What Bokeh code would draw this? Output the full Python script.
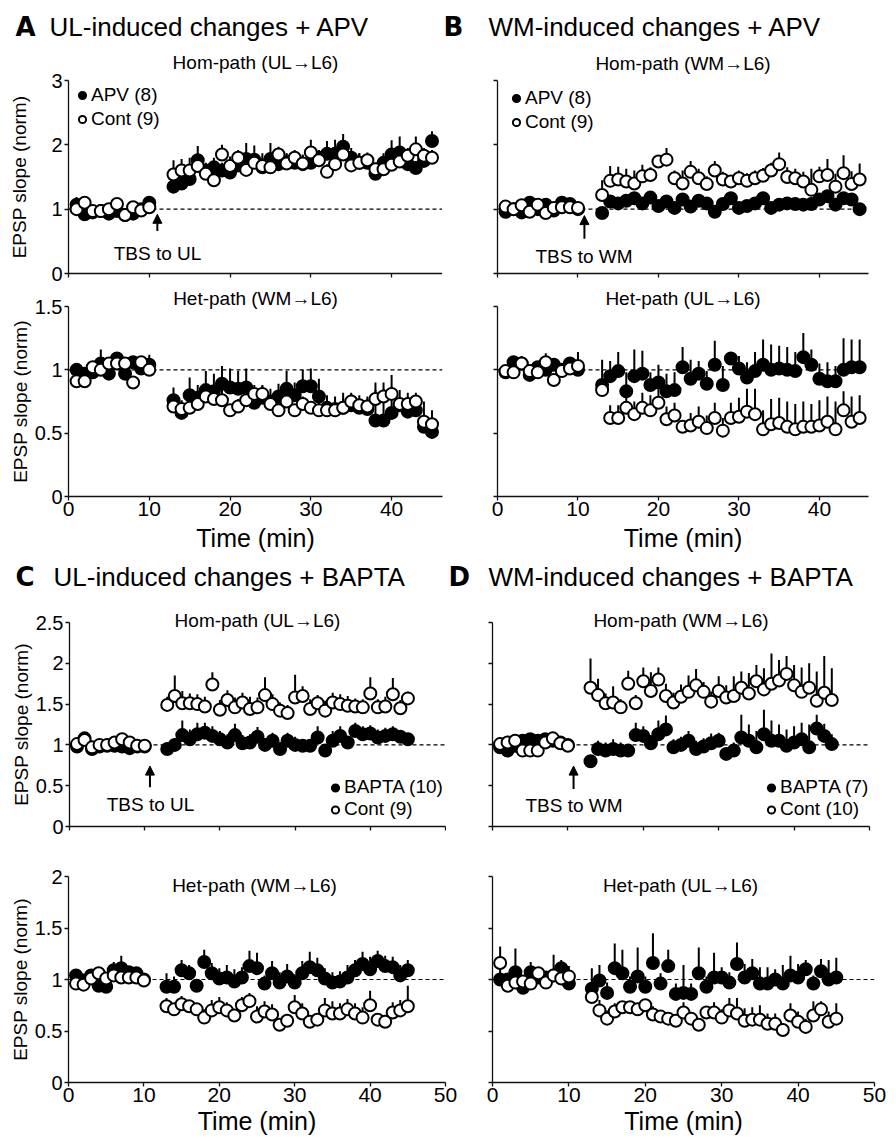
import math
from bokeh.plotting import figure
from bokeh.layouts import column, row
from bokeh.models import (Range1d, FixedTicker, NumeralTickFormatter, Span, Label, Title, LinearAxis,
                          Arrow, NormalHead, Legend, LegendItem, ColumnDataSource)
from bokeh.embed import file_html
from bokeh.resources import INLINE

FONT = "Liberation Sans"

# ---------------- data ----------------
time_min = [1, 2, 3, 4, 5, 6, 7, 8, 9, 10,
            13, 14, 15, 16, 17, 18, 19, 20, 21, 22, 23, 24, 25, 26, 27, 28, 29, 30,
            31, 32, 33, 34, 35, 36, 37, 38, 39, 40, 41, 42, 43, 44, 45]

a_hom_apv = [1.07, 0.92, 0.95, 0.97, 0.93, 0.97, 0.91, 0.93, 1.00, 1.10,
             1.35, 1.40, 1.47, 1.76, 1.60, 1.65, 1.60, 1.57, 1.68, 1.78, 1.77, 1.65, 1.78, 1.70, 1.72, 1.72, 1.70, 1.72,
             1.80, 1.86, 1.86, 1.97, 1.80, 1.72, 1.72, 1.55, 1.72, 1.85, 1.88, 1.70, 1.64, 1.75, 2.06]
a_hom_apv_sem = [0.12, 0.04, 0.05, 0.04, 0.05, 0.06, 0.05, 0.07, 0.06, 0.05,
                 0.10, 0.10, 0.12, 0.22, 0.12, 0.15, 0.12, 0.12, 0.12, 0.25, 0.22, 0.15, 0.25, 0.15, 0.15, 0.15, 0.15, 0.12,
                 0.12, 0.20, 0.22, 0.20, 0.15, 0.15, 0.12, 0.10, 0.15, 0.22, 0.25, 0.15, 0.10, 0.10, 0.15]
a_hom_cont = [1.00, 1.10, 0.97, 0.97, 1.00, 1.08, 0.91, 1.03, 0.98, 1.03,
              1.54, 1.60, 1.60, 1.67, 1.55, 1.45, 1.85, 1.67, 1.80, 1.61, 1.72, 1.67, 1.65, 1.85, 1.71, 1.80, 1.71, 1.88,
              1.76, 1.58, 1.70, 1.85, 1.68, 1.72, 1.76, 1.62, 1.62, 1.69, 1.74, 1.83, 1.93, 1.83, 1.80]
a_hom_cont_sem = [0.05, 0.05, 0.04, 0.04, 0.05, 0.06, 0.04, 0.08, 0.05, 0.05,
                  0.22, 0.18, 0.20, 0.15, 0.12, 0.10, 0.15, 0.15, 0.12, 0.12, 0.15, 0.20, 0.15, 0.12, 0.15, 0.12, 0.12, 0.20,
                  0.15, 0.12, 0.15, 0.12, 0.20, 0.15, 0.12, 0.10, 0.12, 0.15, 0.12, 0.12, 0.20, 0.12, 0.12]

a_het_apv = [1.00, 0.97, 0.98, 1.05, 0.97, 1.09, 0.97, 1.06, 1.01, 1.04,
             0.76, 0.66, 0.80, 0.78, 0.84, 0.83, 0.89, 0.86, 0.85, 0.86, 0.74, 0.78, 0.75, 0.79, 0.85, 0.80, 0.87, 0.87,
             0.79, 0.70, 0.69, 0.70, 0.72, 0.70, 0.69, 0.60, 0.60, 0.66, 0.72, 0.67, 0.68, 0.55, 0.51]
a_het_apv_sem = [0.04, 0.03, 0.04, 0.11, 0.04, 0.04, 0.04, 0.05, 0.05, 0.08,
                 0.10, 0.10, 0.14, 0.10, 0.15, 0.14, 0.14, 0.15, 0.14, 0.15, 0.10, 0.10, 0.10, 0.10, 0.14, 0.10, 0.13, 0.14,
                 0.14, 0.10, 0.10, 0.12, 0.10, 0.10, 0.10, 0.30, 0.30, 0.30, 0.12, 0.15, 0.10, 0.20, 0.17]
a_het_cont = [0.91, 0.91, 1.02, 1.00, 1.05, 1.05, 1.05, 0.90, 1.06, 1.00,
              0.71, 0.69, 0.70, 0.73, 0.79, 0.77, 0.76, 0.68, 0.71, 0.76, 0.81, 0.81, 0.73, 0.68, 0.75, 0.68, 0.73, 0.70,
              0.68, 0.68, 0.68, 0.70, 0.75, 0.72, 0.71, 0.77, 0.79, 0.81, 0.73, 0.73, 0.75, 0.59, 0.57]
a_het_cont_sem = [0.03, 0.03, 0.04, 0.04, 0.04, 0.04, 0.04, 0.04, 0.04, 0.04,
                  0.05, 0.06, 0.05, 0.07, 0.05, 0.06, 0.08, 0.05, 0.06, 0.05, 0.07, 0.06, 0.05, 0.06, 0.07, 0.05, 0.06, 0.05,
                  0.06, 0.05, 0.06, 0.07, 0.06, 0.05, 0.06, 0.07, 0.06, 0.05, 0.06, 0.05, 0.07, 0.06, 0.07]

b_hom_apv = [0.96, 1.00, 0.95, 1.10, 1.00, 1.07, 0.98, 1.10, 1.08, 1.00,
             0.94, 1.12, 1.09, 1.13, 1.17, 1.09, 1.18, 1.05, 1.12, 1.02, 1.15, 1.04, 1.13, 1.09, 0.96, 1.08, 1.17, 1.02,
             1.05, 1.09, 1.17, 1.02, 1.07, 1.09, 1.08, 1.07, 1.08, 1.15, 1.20, 1.07, 1.17, 1.15, 1.00]
b_hom_apv_sem = [0.04, 0.03, 0.04, 0.08, 0.04, 0.05, 0.04, 0.04, 0.05, 0.04,
                 0.05, 0.06, 0.07, 0.08, 0.06, 0.07, 0.06, 0.08, 0.06, 0.07, 0.08, 0.06, 0.07, 0.06, 0.05, 0.07, 0.06, 0.08,
                 0.09, 0.07, 0.06, 0.10, 0.09, 0.08, 0.10, 0.09, 0.08, 0.07, 0.08, 0.09, 0.07, 0.08, 0.06]
b_hom_cont = [1.04, 1.00, 1.06, 0.96, 1.07, 0.94, 1.02, 1.03, 1.03, 1.02,
              1.22, 1.44, 1.46, 1.43, 1.40, 1.51, 1.53, 1.74, 1.77, 1.48, 1.40, 1.58, 1.48, 1.39, 1.60, 1.46, 1.43, 1.48,
              1.44, 1.48, 1.52, 1.60, 1.70, 1.50, 1.48, 1.43, 1.30, 1.51, 1.53, 1.35, 1.56, 1.39, 1.46]
b_hom_cont_sem = [0.03, 0.03, 0.04, 0.03, 0.04, 0.03, 0.04, 0.03, 0.04, 0.03,
                  0.23, 0.23, 0.20, 0.20, 0.20, 0.18, 0.12, 0.10, 0.18, 0.12, 0.20, 0.17, 0.15, 0.12, 0.15, 0.12, 0.10, 0.12,
                  0.12, 0.12, 0.12, 0.12, 0.18, 0.15, 0.15, 0.15, 0.33, 0.15, 0.25, 0.20, 0.28, 0.20, 0.25]

b_het_apv = [0.98, 1.06, 1.05, 0.96, 1.02, 1.00, 1.04, 1.00, 1.05, 1.00,
             0.88, 0.95, 0.99, 0.83, 0.95, 0.97, 0.88, 0.90, 0.83, 0.84, 1.02, 0.93, 0.97, 0.89, 1.04, 0.88, 1.09, 1.01,
             0.94, 0.99, 1.04, 1.00, 1.01, 1.00, 0.99, 1.10, 1.04, 0.93, 0.91, 0.91, 1.00, 1.02, 1.02]
b_het_apv_sem = [0.05, 0.05, 0.06, 0.04, 0.05, 0.04, 0.05, 0.04, 0.05, 0.08,
                 0.20, 0.12, 0.15, 0.15, 0.21, 0.18, 0.10, 0.14, 0.14, 0.14, 0.16, 0.15, 0.10, 0.10, 0.19, 0.15, 0.05, 0.10,
                 0.12, 0.15, 0.20, 0.20, 0.18, 0.18, 0.15, 0.19, 0.12, 0.12, 0.15, 0.12, 0.25, 0.22, 0.22]
b_het_cont = [0.99, 0.98, 1.05, 0.99, 0.98, 1.06, 0.92, 0.99, 1.01, 1.03,
              0.84, 0.62, 0.62, 0.70, 0.65, 0.70, 0.68, 0.74, 0.61, 0.64, 0.55, 0.56, 0.59, 0.54, 0.62, 0.52, 0.62, 0.63,
              0.67, 0.65, 0.53, 0.57, 0.58, 0.55, 0.53, 0.55, 0.55, 0.56, 0.59, 0.53, 0.68, 0.59, 0.62]
b_het_cont_sem = [0.03, 0.03, 0.05, 0.03, 0.03, 0.07, 0.03, 0.03, 0.03, 0.11,
                  0.05, 0.10, 0.10, 0.12, 0.10, 0.12, 0.12, 0.12, 0.10, 0.10, 0.05, 0.10, 0.12, 0.10, 0.12, 0.10, 0.12, 0.15,
                  0.18, 0.20, 0.15, 0.20, 0.20, 0.20, 0.20, 0.20, 0.18, 0.20, 0.20, 0.22, 0.15, 0.20, 0.18]

c_hom_bapta = [0.98, 1.08, 0.95, 0.98, 0.99, 0.99, 0.98, 0.96, 0.98, 0.98,
               0.95, 1.00, 1.12, 1.07, 1.13, 1.15, 1.11, 1.07, 1.03, 1.12, 1.02, 1.03, 1.10, 1.00, 1.05, 0.95, 1.05, 1.00,
               0.99, 0.99, 1.09, 0.93, 1.05, 1.11, 1.03, 1.17, 1.13, 1.14, 1.09, 1.11, 1.13, 1.10, 1.07]
c_hom_bapta_sem = [0.04, 0.05, 0.03, 0.03, 0.03, 0.04, 0.05, 0.04, 0.03, 0.03,
                   0.06, 0.08, 0.18, 0.12, 0.14, 0.12, 0.12, 0.10, 0.10, 0.14, 0.10, 0.10, 0.12, 0.08, 0.10, 0.08, 0.10, 0.10,
                   0.08, 0.08, 0.14, 0.06, 0.12, 0.12, 0.08, 0.10, 0.10, 0.10, 0.10, 0.10, 0.10, 0.08, 0.08]
c_hom_cont = [1.01, 1.06, 0.97, 1.00, 1.00, 1.03, 1.07, 1.03, 0.99, 0.99,
              1.49, 1.60, 1.51, 1.51, 1.50, 1.47, 1.74, 1.43, 1.55, 1.46, 1.52, 1.44, 1.46, 1.61, 1.50, 1.42, 1.39, 1.58,
              1.60, 1.44, 1.51, 1.42, 1.52, 1.50, 1.48, 1.47, 1.46, 1.63, 1.46, 1.47, 1.62, 1.45, 1.57]
c_hom_cont_sem = [0.03, 0.04, 0.03, 0.03, 0.03, 0.04, 0.05, 0.04, 0.03, 0.03,
                  0.10, 0.25, 0.15, 0.12, 0.12, 0.12, 0.15, 0.12, 0.12, 0.12, 0.12, 0.15, 0.12, 0.22, 0.12, 0.10, 0.10, 0.28,
                  0.12, 0.12, 0.10, 0.12, 0.12, 0.12, 0.12, 0.10, 0.10, 0.20, 0.10, 0.12, 0.20, 0.10, 0.08]

c_het_bapta = [1.04, 0.99, 1.04, 0.94, 0.93, 1.09, 1.11, 1.07, 1.06, 1.00,
               0.93, 0.93, 1.09, 1.06, 0.94, 1.17, 1.06, 1.01, 1.02, 0.98, 1.02, 1.13, 1.11, 0.96, 1.06, 0.97, 1.03, 0.97,
               1.06, 1.12, 1.09, 1.01, 0.97, 0.98, 1.02, 1.09, 1.15, 1.10, 1.18, 1.13, 1.12, 1.04, 1.09]
c_het_bapta_sem = [0.06, 0.04, 0.05, 0.05, 0.04, 0.08, 0.12, 0.06, 0.06, 0.05,
                   0.13, 0.10, 0.10, 0.08, 0.06, 0.12, 0.10, 0.10, 0.12, 0.12, 0.10, 0.15, 0.15, 0.08, 0.12, 0.10, 0.12, 0.08,
                   0.12, 0.15, 0.12, 0.10, 0.10, 0.10, 0.12, 0.10, 0.12, 0.12, 0.10, 0.10, 0.10, 0.10, 0.10]
c_het_cont = [0.96, 0.95, 1.01, 1.06, 1.01, 1.04, 1.02, 1.02, 1.02, 0.99,
              0.74, 0.71, 0.76, 0.74, 0.71, 0.63, 0.70, 0.73, 0.70, 0.65, 0.75, 0.79, 0.64, 0.69, 0.66, 0.56, 0.60, 0.73,
              0.67, 0.59, 0.61, 0.70, 0.67, 0.67, 0.71, 0.67, 0.63, 0.75, 0.61, 0.59, 0.68, 0.70, 0.74]
c_het_cont_sem = [0.03, 0.03, 0.03, 0.03, 0.03, 0.04, 0.03, 0.03, 0.03, 0.03,
                  0.08, 0.06, 0.08, 0.06, 0.06, 0.08, 0.10, 0.10, 0.08, 0.06, 0.08, 0.08, 0.10, 0.10, 0.10, 0.06, 0.06, 0.12,
                  0.10, 0.06, 0.06, 0.12, 0.12, 0.10, 0.10, 0.10, 0.10, 0.14, 0.06, 0.06, 0.10, 0.10, 0.20]

d_hom_bapta = [0.97, 0.93, 0.99, 1.05, 1.07, 1.05, 1.07, 1.05, 1.03, 1.00,
               0.80, 0.95, 0.93, 0.95, 0.93, 0.93, 1.12, 1.11, 1.02, 1.13, 1.19, 0.97, 1.00, 1.05, 0.95, 0.98, 1.02, 1.05,
               0.89, 0.93, 1.09, 1.05, 0.97, 1.13, 1.05, 1.05, 0.99, 1.03, 1.07, 0.97, 1.20, 1.11, 1.01]
d_hom_bapta_sem = [0.04, 0.04, 0.04, 0.05, 0.05, 0.04, 0.05, 0.04, 0.04, 0.03,
                   0.05, 0.10, 0.10, 0.12, 0.10, 0.05, 0.15, 0.12, 0.10, 0.17, 0.17, 0.10, 0.10, 0.12, 0.10, 0.10, 0.12, 0.10,
                   0.05, 0.10, 0.28, 0.20, 0.20, 0.30, 0.25, 0.20, 0.20, 0.20, 0.20, 0.28, 0.17, 0.15, 0.12]
d_hom_cont = [1.01, 1.03, 1.05, 0.93, 0.93, 0.93, 1.03, 1.08, 1.02, 0.99,
              1.70, 1.61, 1.51, 1.52, 1.46, 1.75, 1.51, 1.78, 1.66, 1.80, 1.60, 1.52, 1.59, 1.65, 1.73, 1.65, 1.53, 1.66,
              1.58, 1.60, 1.70, 1.63, 1.78, 1.68, 1.75, 1.79, 1.87, 1.73, 1.65, 1.70, 1.54, 1.64, 1.55]
d_hom_cont_sem = [0.03, 0.03, 0.04, 0.03, 0.03, 0.03, 0.04, 0.05, 0.04, 0.03,
                  0.36, 0.20, 0.12, 0.20, 0.10, 0.16, 0.10, 0.17, 0.23, 0.15, 0.15, 0.12, 0.15, 0.20, 0.20, 0.12, 0.12, 0.18,
                  0.15, 0.24, 0.20, 0.25, 0.20, 0.26, 0.37, 0.25, 0.22, 0.25, 0.30, 0.30, 0.36, 0.45, 0.39]

d_het_bapta = [1.00, 1.00, 1.07, 0.92, 1.07, 1.02, 1.02, 1.04, 1.11, 0.96,
               0.91, 0.99, 0.87, 1.11, 1.06, 0.93, 1.03, 0.93, 1.16, 0.96, 1.13, 0.86, 0.87, 0.86, 1.06, 0.93, 1.02, 1.02,
               0.97, 1.15, 1.02, 1.06, 0.96, 0.96, 1.00, 0.96, 1.04, 1.02, 1.10, 0.96, 1.08, 1.00, 1.02]
d_het_bapta_sem = [0.32, 0.05, 0.23, 0.05, 0.10, 0.05, 0.05, 0.20, 0.08, 0.17,
                   0.20, 0.15, 0.10, 0.24, 0.23, 0.10, 0.28, 0.10, 0.29, 0.10, 0.16, 0.10, 0.27, 0.10, 0.25, 0.10, 0.24, 0.10,
                   0.10, 0.21, 0.13, 0.14, 0.16, 0.16, 0.10, 0.18, 0.19, 0.13, 0.09, 0.08, 0.12, 0.19, 0.19]
d_het_cont = [1.16, 0.94, 0.97, 0.98, 0.96, 1.06, 0.97, 1.04, 1.01, 1.03,
              0.83, 0.70, 0.62, 0.69, 0.73, 0.73, 0.71, 0.75, 0.66, 0.64, 0.62, 0.60, 0.68, 0.62, 0.56, 0.68, 0.68, 0.63,
              0.70, 0.67, 0.60, 0.61, 0.61, 0.57, 0.57, 0.51, 0.65, 0.59, 0.54, 0.65, 0.71, 0.59, 0.62]
d_het_cont_sem = [0.02, 0.03, 0.03, 0.04, 0.03, 0.03, 0.04, 0.03, 0.03, 0.03,
                  0.08, 0.10, 0.08, 0.08, 0.06, 0.06, 0.06, 0.05, 0.08, 0.06, 0.06, 0.06, 0.10, 0.06, 0.06, 0.06, 0.10, 0.08,
                  0.12, 0.15, 0.12, 0.12, 0.14, 0.10, 0.10, 0.06, 0.12, 0.10, 0.08, 0.14, 0.08, 0.10, 0.15]

ticks_x_ab = [0, 10, 20, 30, 40]
ticks_x_cd = [0, 10, 20, 30, 40, 50]
ticks_y_3 = [0, 1, 2, 3]
ticks_y_15 = [0, 0.5, 1, 1.5]
ticks_y_25 = [0, 0.5, 1, 1.5, 2, 2.5]
ticks_y_2 = [0, 0.5, 1, 1.5, 2]


# ---------------- helpers ----------------
def make_panel(g, x_end, y_end, x_ticks, y_ticks, x_labels, y_labels,
               ylab_standoff=1, xlab_standoff=0):
    p = figure(width=g["w"], height=g["h"],
               x_range=Range1d(0, x_end), y_range=Range1d(0, y_end),
               output_backend="svg", toolbar_location=None, title=None,
               min_border_left=g["fl"] - g["x"], min_border_right=g["x"] + g["w"] - g["fr"],
               min_border_top=g["ft"] - g["y"], min_border_bottom=g["y"] + g["h"] - g["fb"])
    p.outline_line_color = None
    p.xgrid.visible = False
    p.ygrid.visible = False
    p.background_fill_color = "white"
    p.border_fill_color = "white"
    xa, ya = p.xaxis[0], p.yaxis[0]
    xa.ticker = FixedTicker(ticks=x_ticks)
    ya.ticker = FixedTicker(ticks=y_ticks)
    ya.formatter = NumeralTickFormatter(format="0.[0]")
    for ax in (xa, ya):
        ax.axis_line_color = "#111111"
        ax.axis_line_width = 1.3
        ax.major_tick_line_color = "#111111"
        ax.major_tick_line_width = 1.3
        ax.major_tick_in = 0
        ax.major_tick_out = 4
        ax.minor_tick_line_color = None
        ax.major_label_text_font = FONT
        ax.major_label_text_color = "black"
    if x_labels:
        xa.major_label_text_font_size = "21px"
        xa.major_label_standoff = 1
        xa.axis_label = "Time (min)"
        xa.axis_label_text_font = FONT
        xa.axis_label_text_font_size = "25px"
        xa.axis_label_text_font_style = "normal"
        xa.axis_label_text_color = "black"
        xa.axis_label_standoff = xlab_standoff
    else:
        xa.major_label_text_font_size = "1px"
        xa.major_label_text_color = None
        xa.major_label_standoff = 0
    if y_labels:
        ya.major_label_text_font_size = "20px"
        ya.major_label_standoff = 2
        ya.axis_label = "EPSP slope (norm)"
        ya.axis_label_text_font = FONT
        ya.axis_label_text_font_size = "19px"
        ya.axis_label_text_font_style = "normal"
        ya.axis_label_text_color = "black"
        ya.axis_label_standoff = ylab_standoff
    else:
        ya.major_label_text_font_size = "1px"
        ya.major_label_text_color = None
        ya.major_label_standoff = 0
    p.add_layout(Span(location=1, dimension="width", line_color="black", line_dash="4 3",
                      line_width=1.2, level="underlay"))
    return p


def subtitle(p, text, standoff):
    p.title = Title(text=text, align="center", vertical_align="bottom", standoff=standoff,
                    text_font=FONT, text_font_size="19px", text_font_style="normal",
                    text_color="black")


def inner_subtitle(p, text, standoff):
    # a bare top axis whose label sits at (or just inside) the top edge of the frame
    ax = LinearAxis(ticker=FixedTicker(ticks=[]), axis_label=text,
                    axis_line_color=None, major_tick_line_color=None, minor_tick_line_color=None,
                    major_tick_in=0, major_tick_out=0,
                    major_label_text_color=None, major_label_text_font_size="1px",
                    major_label_standoff=0,
                    axis_label_standoff=standoff, axis_label_text_font=FONT,
                    axis_label_text_font_size="19px", axis_label_text_font_style="normal",
                    axis_label_text_color="black")
    p.add_layout(ax, "above")


def draw_series(p, t, mean, sem, fill):
    top = [m + s for m, s in zip(mean, sem)]
    src = ColumnDataSource(dict(t=t, m=mean, top=top))
    p.segment(x0="t", y0="m", x1="t", y1="top", source=src, line_color="black", line_width=2)
    return p.scatter(x="t", y="m", source=src, marker="circle", size=12,
                     fill_color=fill, line_color="black", line_width=2)


def txt(p, g, px, py, text, size, align="left", baseline="alphabetic"):
    # label inside the frame, given in page pixels
    p.add_layout(Label(x=px - g["fl"], y=g["fb"] - py, x_units="screen", y_units="screen",
                       text=text, text_font=FONT, text_font_size=size, text_align=align,
                       text_baseline=baseline, text_color="black"))


def add_legend(p, r_fill, r_open, lab_fill, lab_open, vx, vy, row_h):
    leg = Legend(items=[LegendItem(label=lab_fill, renderers=[r_fill]),
                        LegendItem(label=lab_open, renderers=[r_open])],
                 location=(vx, vy), orientation="vertical",
                 glyph_width=18, glyph_height=row_h, label_height=row_h, label_width=10,
                 label_standoff=0, spacing=0, padding=0, margin=0,
                 border_line_color=None, background_fill_alpha=0.0,
                 label_text_font=FONT, label_text_font_size="19px", label_text_color="black")
    p.add_layout(leg)


def tbs_arrow(p, x, y0, y1):
    p.add_layout(Arrow(end=NormalHead(size=9, fill_color="black", line_color="black", line_width=1),
                       x_start=x, y_start=y0, x_end=x, y_end=y1,
                       line_color="black", line_width=2))


def header(y0, height, items):
    h = figure(width=896, height=height, x_range=Range1d(0, 896), y_range=Range1d(0, height),
               x_axis_type=None, y_axis_type=None, output_backend="svg", toolbar_location=None,
               title=None, min_border_left=0, min_border_right=0, min_border_top=0, min_border_bottom=0)
    h.outline_line_color = None
    h.xgrid.visible = False
    h.ygrid.visible = False
    for (px, py, text, bold) in items:
        h.add_layout(Label(x=px, y=y0 + height - py, text=text,
                           text_font="DejaVu Sans" if bold else FONT,
                           text_font_size="26px", text_font_style="bold" if bold else "normal",
                           text_align="left", text_baseline="alphabetic", text_color="black"))
    return h


# ---------------- header 1 (page y 0..41) ----------------
hdr1 = header(0, 41, [(15, 26, "A", True), (49, 26, "UL-induced changes + APV", False),
                      (443, 26, "B", True), (488, 26, "WM-induced changes + APV", False)])

# ---------------- Panel A top ----------------
gA1 = dict(x=0, y=41, w=442, h=243, fl=68, fr=442, ft=80, fb=276)
pA1 = make_panel(gA1, 46.3, 3, ticks_x_ab, ticks_y_3, False, True, ylab_standoff=18)
rf = draw_series(pA1, time_min, a_hom_apv, a_hom_apv_sem, "black")
ro = draw_series(pA1, time_min, a_hom_cont, a_hom_cont_sem, "white")
add_legend(pA1, rf, ro, "APV (8)", "Cont (9)", 5, 142, 24)
tbs_arrow(pA1, 11.0, 0.66, 0.92)
subtitle(pA1, "Hom-path (UL→L6)", 15)
txt(pA1, gA1, 157, 256, "TBS to UL", "19px", align="center")

# ---------------- Panel B top ----------------
gB1 = dict(x=442, y=41, w=454, h=243, fl=497, fr=868, ft=80, fb=273)
pB1 = make_panel(gB1, 46.1, 3, ticks_x_ab, ticks_y_3, False, False)
rf = draw_series(pB1, time_min, b_hom_apv, b_hom_apv_sem, "black")
ro = draw_series(pB1, time_min, b_hom_cont, b_hom_cont_sem, "white")
add_legend(pB1, rf, ro, "APV (8)", "Cont (9)", 10, 139, 24)
tbs_arrow(pB1, 10.8, 0.54, 0.90)
subtitle(pB1, "Hom-path (WM→L6)", 14)
txt(pB1, gB1, 583.5, 256, "TBS to WM", "19px", align="center")

# ---------------- Panel A bottom ----------------
gA2 = dict(x=0, y=284, w=446, h=276, fl=68, fr=442, ft=303, fb=496)
pA2 = make_panel(gA2, 46.3, 1.5, ticks_x_ab, ticks_y_15, True, True, ylab_standoff=1, xlab_standoff=5)
draw_series(pA2, time_min, a_het_apv, a_het_apv_sem, "black")
draw_series(pA2, time_min, a_het_cont, a_het_cont_sem, "white")
inner_subtitle(pA2, "Het-path (WM→L6)", -2)

# ---------------- Panel B bottom ----------------
gB2 = dict(x=446, y=284, w=450, h=276, fl=497, fr=868, ft=304, fb=497)
pB2 = make_panel(gB2, 46.1, 1.5, ticks_x_ab, ticks_y_15, True, False, xlab_standoff=5)
draw_series(pB2, time_min, b_het_apv, b_het_apv_sem, "black")
draw_series(pB2, time_min, b_het_cont, b_het_cont_sem, "white")
inner_subtitle(pB2, "Het-path (UL→L6)", -2)

# ---------------- header 2 (page y 560..592) ----------------
hdr2 = header(560, 32, [(15, 576, "C", True), (53, 576, "UL-induced changes + BAPTA", False),
                        (448, 576, "D", True), (488, 576, "WM-induced changes + BAPTA", False)])

# ---------------- Panel C top ----------------
gC1 = dict(x=0, y=592, w=446, h=268, fl=69, fr=445, ft=622, fb=826)
pC1 = make_panel(gC1, 50, 2.5, ticks_x_cd, ticks_y_25, False, True, ylab_standoff=1)
rf = draw_series(pC1, time_min, c_hom_bapta, c_hom_bapta_sem, "black")
ro = draw_series(pC1, time_min, c_hom_cont, c_hom_cont_sem, "white")
add_legend(pC1, rf, ro, "BAPTA (10)", "Cont (9)", 257, 6, 19)
tbs_arrow(pC1, 10.7, 0.48, 0.74)
inner_subtitle(pC1, "Hom-path (UL→L6)", -8)
txt(pC1, gC1, 150, 804, "TBS to UL", "19px", align="center")

# ---------------- Panel D top ----------------
gD1 = dict(x=446, y=592, w=450, h=268, fl=492, fr=869, ft=622, fb=826)
pD1 = make_panel(gD1, 50, 2.5, ticks_x_cd, ticks_y_25, False, False)
rf = draw_series(pD1, time_min, d_hom_bapta, d_hom_bapta_sem, "black")
ro = draw_series(pD1, time_min, d_hom_cont, d_hom_cont_sem, "white")
add_legend(pD1, rf, ro, "BAPTA (7)", "Cont (10)", 270, 6, 19)
tbs_arrow(pD1, 10.75, 0.46, 0.74)
inner_subtitle(pD1, "Hom-path (WM→L6)", -8)
txt(pD1, gD1, 573.5, 805, "TBS to WM", "19px", align="center")

# ---------------- Panel C bottom ----------------
gC2 = dict(x=0, y=860, w=462, h=281, fl=68, fr=445, ft=876, fb=1082)
pC2 = make_panel(gC2, 50, 2, ticks_x_cd, ticks_y_2, True, True, ylab_standoff=1, xlab_standoff=2)
draw_series(pC2, time_min, c_het_bapta, c_het_bapta_sem, "black")
draw_series(pC2, time_min, c_het_cont, c_het_cont_sem, "white")
txt(pC2, gC2, 254, 885, "Het-path (WM→L6)", "19px", align="center")

# ---------------- Panel D bottom ----------------
gD2 = dict(x=462, y=860, w=434, h=281, fl=492, fr=874, ft=876, fb=1082)
pD2 = make_panel(gD2, 50, 2, ticks_x_cd, ticks_y_2, True, False, xlab_standoff=2)
draw_series(pD2, time_min, d_het_bapta, d_het_bapta_sem, "black")
draw_series(pD2, time_min, d_het_cont, d_het_cont_sem, "white")
txt(pD2, gD2, 680, 885, "Het-path (UL→L6)", "19px", align="center")

layout = column(hdr1, row(pA1, pB1), row(pA2, pB2), hdr2, row(pC1, pD1), row(pC2, pD2))

with open("out.html", "w") as f:
    f.write(file_html(layout, INLINE))
